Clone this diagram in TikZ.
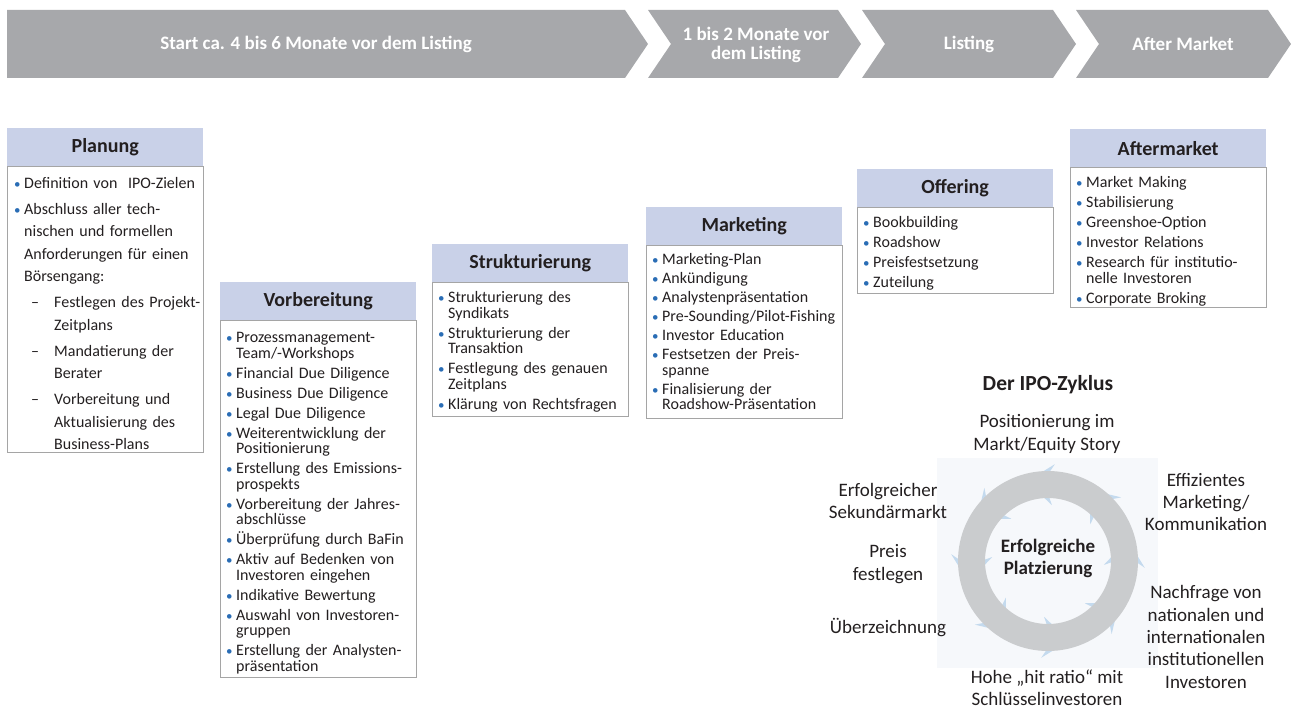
\documentclass[tikz,border=0pt]{standalone}
\usepackage{fontspec}
\setmainfont{Carlito}
\usetikzlibrary{positioning}

\definecolor{bannergray}{HTML}{A7A8AB}
\definecolor{headblue}{HTML}{C9D1E8}
\definecolor{framegray}{HTML}{A5A5A5}
\definecolor{dotblue}{HTML}{2A6DB5}
\definecolor{ringgray}{HTML}{CACCCE}
\definecolor{barbblue}{HTML}{C4DAEE}
\definecolor{haze}{HTML}{F6F8FB}
\definecolor{ink}{HTML}{231F20}

% tight leading in the lists and labels
\setlength{\lineskiplimit}{-100pt}

% list entries: blue dot, or a dash one level down
\newcommand{\itm}{\par\hangindent=10pt\hangafter=1\noindent\makebox[10pt][l]{\textcolor{dotblue}{\fontsize{13}{13}\selectfont\textbullet}}}
\newcommand{\subitm}{\par\hangindent=40pt\hangafter=1\noindent\hspace*{17pt}\makebox[23pt][l]{–}}

\begin{document}
\begin{tikzpicture}[x=1pt, y=-1pt]
\tikzstyle{every node}=[inner sep=0pt, text=ink]
\tikzstyle{bannertext}=[text=white, align=center, font={\bfseries\fontsize{19}{19}\selectfont}]
\tikzstyle{phasehead}=[fill=headblue, minimum width=196pt, minimum height=38pt, anchor=north west, font={\bfseries\fontsize{20}{20}\selectfont}]
\tikzstyle{phasebox}=[draw=framegray, line width=0.8pt, minimum width=196pt, anchor=north west]
\tikzstyle{phaselist}=[text width=200pt, align=left, font={\fontsize{16}{15.5}\selectfont\setlength\parskip{4.5pt}}]
\tikzstyle{cycletext}=[align=center, font={\fontsize{19}{22.3}\selectfont}]
\useasboundingbox (0,0) rectangle (1291,709);

% time line on top
\fill[bannergray] (7,10) -- (625,10) -- (648,44) -- (625,78) -- (7,78) -- cycle;
\fill[bannergray] (648,10) -- (838,10) -- (861,44) -- (838,78) -- (648,78) -- (671,44) -- cycle;
\fill[bannergray] (862,10) -- (1053,10) -- (1076,44) -- (1053,78) -- (862,78) -- (885,44) -- cycle;
\fill[bannergray] (1076,10) -- (1268,10) -- (1291,44) -- (1268,78) -- (1076,78) -- (1099,44) -- cycle;
\node[bannertext] (early) at (316,44) {Start ca. 4 bis 6 Monate vor dem Listing};
\node[bannertext] (late) at (756,45) {1 bis 2 Monate vor\\dem Listing};
\node[bannertext] (listing) at (969,44) {Listing};
\node[bannertext] (after) at (1183,44) {After Market};

% phases
\node[phasehead] (plan) at (7,128) {Planung};
\node[phasebox, minimum height=286pt] (planbox) at (plan.south west) {};
\node[phaselist, below right=-4.5pt and 7pt of plan.south west,
  font={\fontsize{16}{22.5}\selectfont\setlength\parskip{3.5pt}}] (planlist) {%
\itm Definition von~ IPO-Zielen
\itm Abschluss aller tech-\newline nischen und formellen\newline Anforderungen für einen\newline Börsengang:
\subitm Festlegen des Projekt-\newline Zeitplans
\subitm Mandatierung der\newline Berater
\subitm Vorbereitung und\newline Aktualisierung des\newline Business-Plans\par};

\node[phasehead] (prep) at (220,282) {Vorbereitung};
\node[phasebox, minimum height=357pt] (prepbox) at (prep.south west) {};
\node[phaselist, below right=2pt and 6pt of prep.south west] (preplist) {%
\itm Prozessmanagement-\newline Team/-Workshops
\itm Financial Due Diligence
\itm Business Due Diligence
\itm Legal Due Diligence
\itm Weiterentwicklung der\newline Positionierung
\itm Erstellung des Emissions-\newline prospekts
\itm Vorbereitung der Jahres-\newline abschlüsse
\itm Überprüfung durch BaFin
\itm Aktiv auf Bedenken von\newline Investoren eingehen
\itm Indikative Bewertung
\itm Auswahl von Investoren-\newline gruppen
\itm Erstellung der Analysten-\newline präsentation\par};

\node[phasehead] (struct) at (432,244) {Strukturierung};
\node[phasebox, minimum height=134pt] (structbox) at (struct.south west) {};
\node[phaselist, below right=0pt and 6pt of struct.south west] (structlist) {%
\itm Strukturierung des\newline Syndikats
\itm Strukturierung der\newline Transaktion
\itm Festlegung des genauen\newline Zeitplans
\itm Klärung von Rechtsfragen\par};

\node[phasehead] (mark) at (646,207) {Marketing};
\node[phasebox, minimum height=173pt] (markbox) at (mark.south west) {};
\node[phaselist, below right=0pt and 6pt of mark.south west,
  font={\fontsize{16}{15.5}\selectfont\setlength\parskip{3.5pt}}] (marklist) {%
\itm Marketing-Plan
\itm Ankündigung
\itm Analystenpräsentation
\itm Pre-Sounding/Pilot-Fishing
\itm Investor Education
\itm Festsetzen der Preis-\newline spanne
\itm Finalisierung der\newline Roadshow-Präsentation\par};

\node[phasehead] (offer) at (857,169) {Offering};
\node[phasebox, minimum height=86pt] (offerbox) at (offer.south west) {};
\node[phaselist, below right=0pt and 6pt of offer.south west] (offerlist) {%
\itm Bookbuilding
\itm Roadshow
\itm Preisfestsetzung
\itm Zuteilung\par};

\node[phasehead] (aftm) at (1070,129) {Aftermarket};
\node[phasebox, minimum height=140pt] (aftmbox) at (aftm.south west) {};
\node[phaselist, below right=0pt and 6pt of aftm.south west] (aftmlist) {%
\itm Market Making
\itm Stabilisierung
\itm Greenshoe-Option
\itm Investor Relations
\itm Research für institutio-\newline nelle Investoren
\itm Corporate Broking\par};

% IPO cycle
\fill[haze] (937,458) rectangle (1158,668);
\begin{scope}[shift={(1048,561)}]
\foreach \a in {0,45,...,315} {
  \fill[barbblue] (\a-4:89) -- (\a+1:89) -- (\a+4:97) -- cycle;
  \fill[barbblue] (\a-4:64) -- (\a+1:64) -- (\a+4:56) -- cycle;
}
\fill[ringgray, even odd rule] (0,0) circle (90pt) (0,0) circle (63pt);
\end{scope}

\node[cycletext, font={\bfseries\fontsize{21.5}{22}\selectfont}] (cyclehead) at (1048,385) {Der IPO-Zyklus};
\node[cycletext, font={\bfseries\fontsize{19}{22}\selectfont}] (goal) at (1048,558) {Erfolgreiche\\Platzierung};
\node[cycletext] (story) at (1047,434) {Positionierung im\\Markt/Equity Story};
\node[cycletext] (comm) at (1206,502) {Effizientes\\Marketing/\\Kommunikation};
\node[cycletext] (demand) at (1206,637) {Nachfrage von\\nationalen und\\internationalen\\institutionellen\\Investoren};
\node[cycletext] (hit) at (1047,688) {Hohe „hit ratio“ mit\\Schlüsselinvestoren};
\node[cycletext] (over) at (888,628) {Überzeichnung};
\node[cycletext] (price) at (888,564) {Preis\\festlegen};
\node[cycletext] (second) at (888,501) {Erfolgreicher\\Sekundärmarkt};
\end{tikzpicture}
\end{document}
